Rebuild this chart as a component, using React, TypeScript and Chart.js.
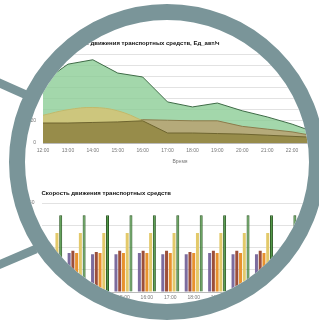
import React, { useEffect, useRef } from 'react';
import { Chart, registerables } from 'chart.js';

Chart.register(...registerables);

// ---------- data ----------
const hours = ['12:00', '13:00', '14:00', '15:00', '16:00', '17:00', '18:00', '19:00', '20:00', '21:00', '22:00', '23:00'];

// intensity chart (area)
const flowGreen = [55, 71, 75, 63, 59.5, 37, 32.5, 36, 29, 23.5, 17, 9];
const flowTan = [18, 18.5, 19, 20, 21, 20.5, 20, 20, 15, 12.5, 10, 6];
const flowKhaki = [25, 30, 32, 29, 20, 8, 7, 7, 6, 5, 4, 3];
const flowOlive = [18, 18, 18.5, 19, 20, 9, 9, 8.5, 8, 7, 6, 5];

// speed chart (bars)
const speedPurple = [17, 17.5, 17, 17, 17.5, 17, 17, 17.5, 17, 17, 17.5, 17];
const speedBrown = [18.5, 18.5, 18, 18.5, 18.5, 18.5, 18, 18.5, 18.5, 18.5, 18.5, 18];
const speedOrange = [17.5, 17.5, 17.5, 17.5, 17.5, 17.5, 17.5, 17.5, 17.5, 17.5, 17.5, 17.5];
const speedYellow = [26.5, 26.5, 26.5, 26.5, 26.5, 26.5, 26.5, 26.5, 26.5, 26.5, 26.5, 26.5];
const speedGreen = [34.5, 34.5, 34.5, 34.5, 34.5, 34.5, 34.5, 34.5, 34.5, 34.5, 34.5, 34.5];

const flowTitle = 'Интенсивность движения транспортных средств, Ед_авт/ч';
const speedTitle = 'Скорость движения транспортных средств';
const timeTitle = 'Время';

const FONT = "'Liberation Sans', Arial, sans-serif";

export default function App() {
  const areaRef = useRef<HTMLCanvasElement>(null);
  const barRef = useRef<HTMLCanvasElement>(null);

  useEffect(() => {
    document.body.style.margin = '0';
    Chart.defaults.font.family = FONT;
    const area = new Chart(areaRef.current!, {
      type: 'line',
      data: {
        labels: hours,
        datasets: [
          { data: flowOlive, backgroundColor: '#978c4a', borderColor: '#6e6530', borderWidth: 1, fill: 'origin', pointRadius: 0, tension: 0 },
          { data: flowKhaki, backgroundColor: '#cdc67d', borderColor: '#c2ba6c', borderWidth: 1, fill: 'origin', pointRadius: 0, tension: 0.4 },
          { data: flowTan, backgroundColor: '#b5aa7a', borderColor: '#8c7c4c', borderWidth: 1, fill: 'origin', pointRadius: 0, tension: 0 },
          { data: flowGreen, backgroundColor: 'rgba(140,205,150,0.8)', borderColor: '#3f6b47', borderWidth: 1, fill: 'origin', pointRadius: 0, tension: 0 },
        ],
      },
      options: {
        responsive: false,
        animation: false,
        devicePixelRatio: 1,
        layout: { padding: { left: 0, right: 23, top: 39.5, bottom: 4 } },
        plugins: {
          legend: { display: false },
          tooltip: { enabled: false },
          title: {
            display: true, text: flowTitle, align: 'start', fullSize: false,
            color: '#111', font: { size: 6, weight: 'bold' }, padding: { top: 0, bottom: 7.5 },
          },
        },
        scales: {
          x: {
            offset: false,
            grid: { display: false, drawTicks: false },
            border: { color: '#bbb' },
            ticks: { color: '#777', font: { size: 5 }, padding: 5, autoSkip: false, maxRotation: 0 },
            title: { display: true, text: timeTitle, color: '#777', font: { size: 5 }, padding: { top: 2, bottom: 3 } },
            afterFit: (s: any) => { s.height = 25; },
          },
          y: {
            min: 0, max: 80,
            grid: { color: '#e2e2e2', drawTicks: false },
            border: { display: false },
            ticks: {
              stepSize: 10, color: '#777', font: { size: 5 }, padding: 7,
              callback: (v: any) => (Number(v) % 20 === 0 ? String(v) : ''),
            },
            afterFit: (s: any) => { s.width = 43; },
          },
        },
      },
    });

    const mk = (data: number[], bg: string, bc: string) => ({
      data, backgroundColor: bg, borderColor: bc, borderWidth: 0,
      categoryPercentage: 0.8, barPercentage: 0.8,
    });
    const bar = new Chart(barRef.current!, {
      type: 'bar',
      data: {
        labels: hours,
        datasets: [
          mk(speedPurple, '#7c6c9e', '#7c6c9e'),
          mk(speedBrown, '#9c4f3a', '#9c4f3a'),
          mk(speedOrange, '#e8922e', '#e8922e'),
          mk(speedYellow, '#e3c96a', '#e3c96a'),
          { ...mk(speedGreen, '#4a9440', '#27561f'), borderWidth: 1, borderSkipped: 'bottom' as const },
        ],
      },
      options: {
        responsive: false,
        animation: false,
        devicePixelRatio: 1,
        layout: { padding: { left: 0, right: 22.5, top: 14.5, bottom: 8 } },
        plugins: {
          legend: { display: false },
          tooltip: { enabled: false },
          title: {
            display: true, text: speedTitle, align: 'start', fullSize: false,
            color: '#111', font: { size: 6, weight: 'bold' }, padding: { top: 0, bottom: 6.3 },
          },
        },
        scales: {
          x: {
            grid: { display: false, drawTicks: false },
            border: { color: '#bbb' },
            ticks: { color: '#777', font: { size: 5 }, padding: 3, autoSkip: false, maxRotation: 0 },
            afterFit: (s: any) => { s.height = 15; },
          },
          y: {
            min: 0, max: 40,
            grid: { color: '#e2e2e2', drawTicks: false },
            border: { display: false },
            ticks: { stepSize: 10, color: '#777', font: { size: 5 }, padding: 7 },
            afterFit: (s: any) => { s.width = 41.5; },
          },
        },
      },
    });

    return () => { area.destroy(); bar.destroy(); };
  }, []);

  const cx = 167, cy = 162, ri = 142, rw = 16;
  const hole = `M0 0H319V322H0Z M${cx - ri} ${cy} a${ri} ${ri} 0 1 0 ${2 * ri} 0 a${ri} ${ri} 0 1 0 ${-2 * ri} 0Z`;
  const ring = '#7a9599';

  return (
    <div style={{ position: 'relative', width: 319, height: 322, overflow: 'hidden', background: '#fff' }}>
      <canvas ref={areaRef} width={340} height={172}
        style={{ position: 'absolute', left: 0, top: 0, filter: 'blur(0.5px)' }} />
      <canvas ref={barRef} width={345} height={140}
        style={{ position: 'absolute', left: 0, top: 175, filter: 'blur(0.5px)' }} />
      <svg width={319} height={322} style={{ position: 'absolute', left: 0, top: 0 }}>
        <path d={hole} fill="#fff" fillRule="evenodd" />
        <line x1={-5} y1={81} x2={32} y2={97.5} stroke={ring} strokeWidth={8.5} />
        <line x1={-5} y1={266.5} x2={36} y2={249} stroke={ring} strokeWidth={8.5} />
        <circle cx={cx} cy={cy} r={ri + rw / 2} fill="none" stroke={ring} strokeWidth={rw} />
      </svg>
    </div>
  );
}
